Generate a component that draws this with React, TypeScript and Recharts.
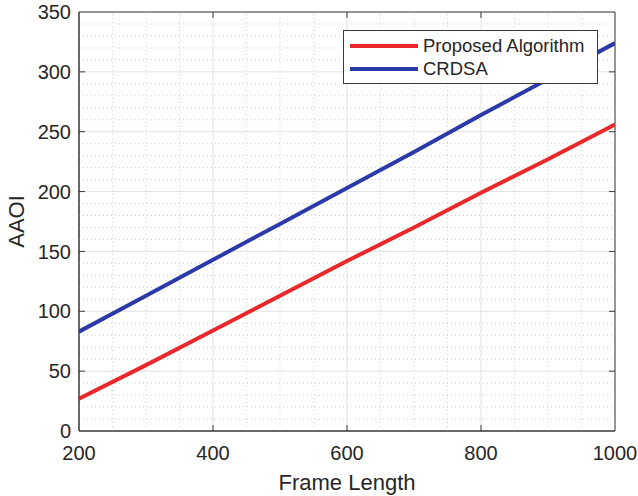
import React from 'react';
import { LineChart, Line, XAxis, YAxis, CartesianGrid, ReferenceLine, ReferenceArea, Label } from 'recharts';

const frameLengths = [200, 300, 400, 500, 600, 700, 800, 900, 1000];
const proposed = [27, 55, 84, 113, 142, 170, 199, 227, 256];
const crdsa = [83, 113, 143, 173, 203, 233, 264, 294, 324];
const xTicks = [200, 400, 600, 800, 1000];
const yTicks = [0, 50, 100, 150, 200, 250, 300, 350];
const xMinor = [250, 300, 350, 450, 500, 550, 650, 700, 750, 850, 900, 950];
const yMinor = [10, 20, 30, 40, 60, 70, 80, 90, 110, 120, 130, 140, 160, 170, 180, 190, 210, 220, 230, 240, 260, 270, 280, 290, 310, 320, 330, 340];
const seriesNames = ['Proposed Algorithm', 'CRDSA'];
const seriesColors = ['#e8282a', '#2b3aa8'];

const data = frameLengths.map((f, i) => ({ f, proposed: proposed[i], crdsa: crdsa[i] }));

const LEFT = 79;
const RIGHT = 615;
const TOP = 12;
const BOTTOM = 431;
const FONT = '"Liberation Sans", Arial, sans-serif';
const TXT = '#262626';
const AX = '#3a3a3a';

const YTick = (props: any) => {
  const { y, payload } = props;
  const v = payload.value;
  const edge = v === 0 || v === 350;
  return (
    <g>
      <text x={71} y={y} dy="0.36em" textAnchor="end" fontSize={20} fontFamily={FONT} fill={TXT}>{v}</text>
      {!edge && <line x1={LEFT} x2={LEFT + 6} y1={y} y2={y} stroke={AX} strokeWidth={1} />}
      {!edge && <line x1={RIGHT - 6} x2={RIGHT} y1={y} y2={y} stroke={AX} strokeWidth={1} />}
    </g>
  );
};

const XTick = (props: any) => {
  const { x, payload } = props;
  const v = payload.value;
  const edge = v === 200 || v === 1000;
  return (
    <g>
      <text x={x} y={460} textAnchor="middle" fontSize={20} fontFamily={FONT} fill={TXT}>{v}</text>
      {!edge && <line x1={x} x2={x} y1={BOTTOM} y2={BOTTOM - 6} stroke={AX} strokeWidth={1} />}
      {!edge && <line x1={x} x2={x} y1={TOP} y2={TOP + 6} stroke={AX} strokeWidth={1} />}
    </g>
  );
};

const LegendBox = () => (
  <div
    style={{
      position: 'absolute',
      left: 343,
      top: 30,
      width: 255,
      height: 54,
      border: '1px solid #3a3a3a',
      background: '#ffffff',
      boxSizing: 'border-box',
      fontFamily: FONT,
      fontSize: 18.5,
      color: TXT,
    }}
  >
    {seriesNames.map((n, i) => (
      <div key={n} style={{ position: 'absolute', left: 6, top: 3 + i * 23, height: 24, display: 'flex', alignItems: 'center' }}>
        <div style={{ width: 68, height: 4, background: seriesColors[i] }} />
        <span style={{ marginLeft: 5, whiteSpace: 'nowrap' }}>{n}</span>
      </div>
    ))}
  </div>
);

export default function App() {
  return (
    <div style={{ position: 'absolute', left: 0, top: 0, width: 638, height: 496, background: '#fff' }}>
      <LineChart width={638} height={496} data={data} margin={{ top: TOP, right: 638 - RIGHT, left: 0, bottom: 0 }}>
        <CartesianGrid stroke="#e2e2e2" strokeWidth={1} horizontal vertical />
        {xMinor.map((v) => (
          <ReferenceLine key={'x' + v} x={v} stroke="#cfcfcf" strokeWidth={1} strokeDasharray="1 3" />
        ))}
        {yMinor.map((v) => (
          <ReferenceLine key={'y' + v} y={v} stroke="#cfcfcf" strokeWidth={1} strokeDasharray="1 3" />
        ))}
        <XAxis
          dataKey="f"
          type="number"
          domain={[200, 1000]}
          ticks={xTicks}
          height={65}
          tick={<XTick />}
          tickLine={false}
          axisLine={{ stroke: AX }}
          allowDataOverflow
        >
          <Label
            content={() => (
              <text x={(LEFT + RIGHT) / 2} y={490} textAnchor="middle" fontSize={22} fontFamily={FONT} fill={TXT}>
                Frame Length
              </text>
            )}
          />
        </XAxis>
        <YAxis
          type="number"
          domain={[0, 350]}
          ticks={yTicks}
          width={LEFT}
          tick={<YTick />}
          tickLine={false}
          axisLine={{ stroke: AX }}
          allowDataOverflow
        >
          <Label
            content={() => (
              <text x={24} y={(TOP + BOTTOM) / 2} textAnchor="middle" fontSize={22} fontFamily={FONT} fill={TXT} transform={`rotate(-90, 24, ${(TOP + BOTTOM) / 2})`}>
                AAOI
              </text>
            )}
          />
        </YAxis>
        <ReferenceArea x1={200} x2={1000} y1={0} y2={350} fill="none" fillOpacity={0} stroke={AX} strokeWidth={1} />
        <Line type="linear" dataKey="proposed" name={seriesNames[0]} stroke={seriesColors[0]} strokeWidth={4} dot={false} isAnimationActive={false} />
        <Line type="linear" dataKey="crdsa" name={seriesNames[1]} stroke={seriesColors[1]} strokeWidth={4} dot={false} isAnimationActive={false} />
      </LineChart>
      <LegendBox />
    </div>
  );
}
